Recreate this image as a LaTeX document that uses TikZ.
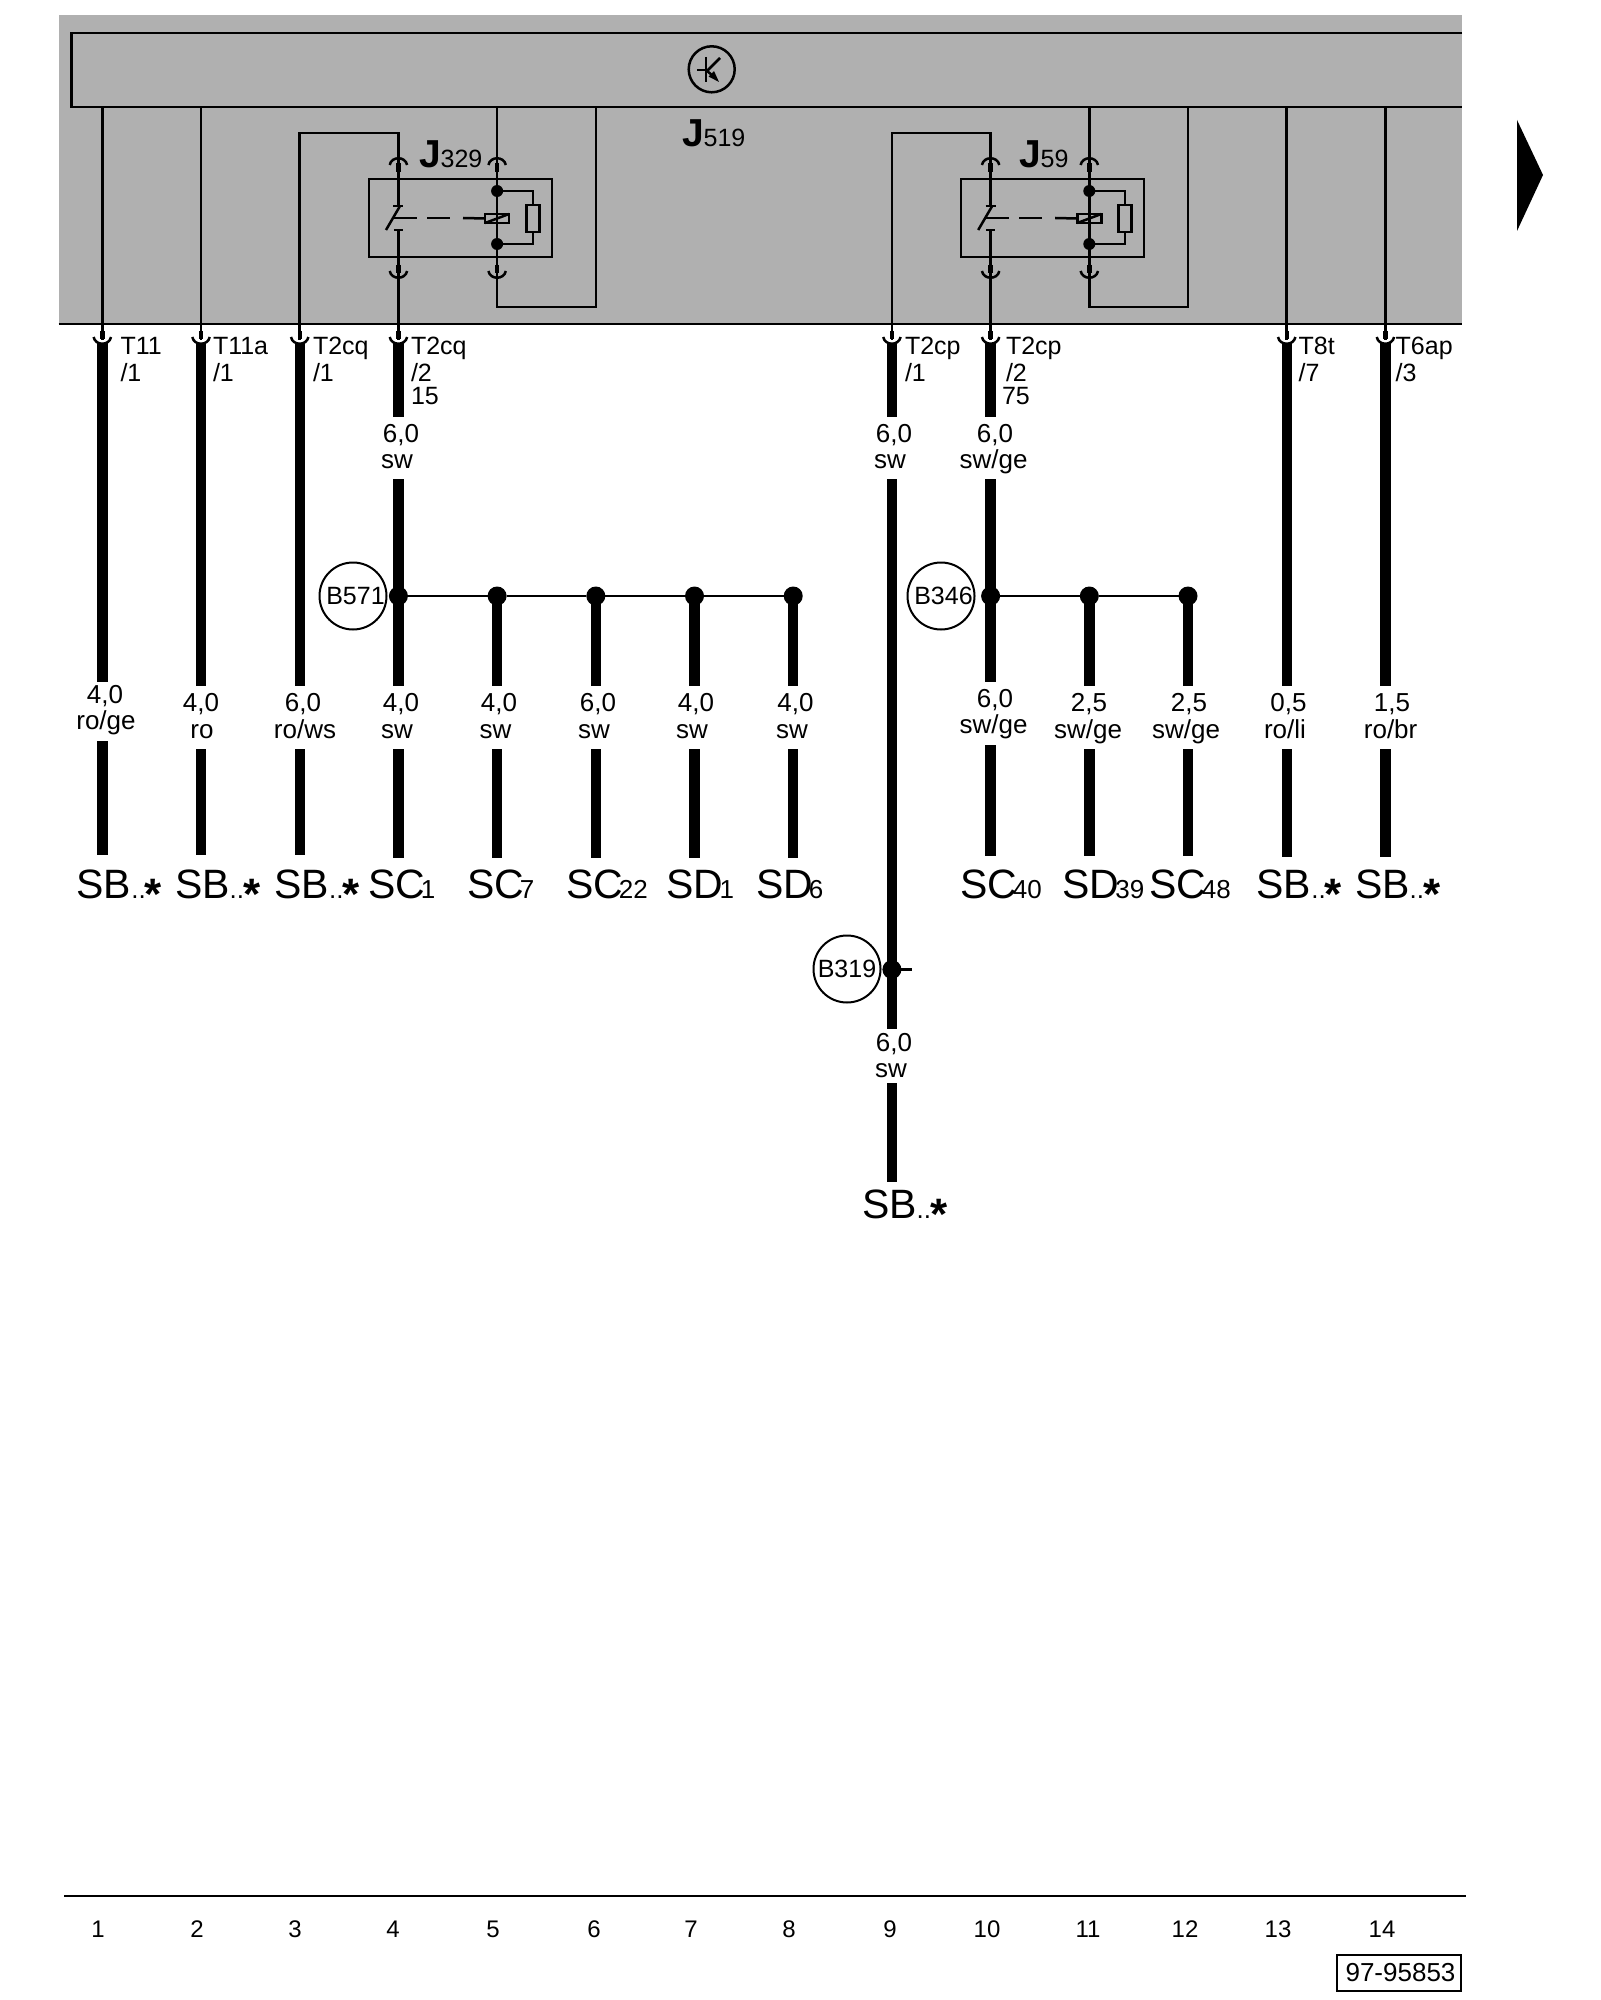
\documentclass[tikz,border=0pt]{standalone}
\usepackage{fontspec}
\setmainfont{Liberation Sans}
\usetikzlibrary{shapes}
\definecolor{modulgrey}{HTML}{B0B0B0}
\newcommand{\tiefnum}[1]{\kern-2pt{\fontsize{13}{13}\selectfont #1}}
\newcommand{\partnum}[1]{{\fontsize{12.5}{12.5}\selectfont\mdseries #1}}
\newcommand{\sbstar}{{\fontsize{13}{13}\selectfont ..}\kern-0.5pt\raisebox{-5.5pt}{\fontsize{22}{22}\selectfont\bfseries *}}

\begin{document}
\begin{tikzpicture}[x=0.5pt,y=-0.5pt]
\tikzstyle{every node}=[inner sep=0pt,outer sep=0pt]
\tikzstyle{thinw}=[line width=1.25pt]
\tikzstyle{heavyw}=[line width=5.2pt]
\tikzstyle{stub}=[line width=2.2pt]
\tikzstyle{busw}=[line width=1.3pt]
\tikzstyle{pinlabel}=[anchor=base west,font=\fontsize{12.5}{12.5}\selectfont]
\tikzstyle{wirelabel}=[anchor=base,font=\fontsize{13}{13}\selectfont]
\tikzstyle{splice}=[circle,draw,line width=1pt,minimum size=33.5pt,font=\fontsize{12.5}{12.5}\selectfont]
\tikzstyle{junction}=[circle,fill=black,minimum size=9.5pt]
\tikzstyle{target}=[anchor=base west,font=\fontsize{20.5}{20.5}\selectfont]
\tikzstyle{partname}=[anchor=base west,font=\fontsize{19.5}{19.5}\selectfont\bfseries]
\tikzstyle{column}=[anchor=base,font=\fontsize{12}{12}\selectfont]
\tikzset{
  pics/cupdown/.style={code={
    \draw[thinw] (-8.7,0) .. controls (-7,9) and (7,9) .. (8.7,0);
    \draw[stub] (0,-6) -- (0,2);}},
  pics/cupup/.style={code={
    \draw[thinw] (-8.7,8) .. controls (-7,-1) and (7,-1) .. (8.7,8);
    \draw[stub] (0,6) -- (0,15);}}
}
\useasboundingbox (0,0) rectangle (1600,2000);

\fill[modulgrey] (58.7,15) rectangle (1462,324);
\draw[thinw] (1462,33) -- (71.6,33) -- (71.6,107) -- (1462,107);
\draw[line width=1.3pt] (58.7,324) -- (1462,324);
\fill (1517,120) -- (1543,175) -- (1517,231) -- cycle;

\node[circle,draw,thinw,minimum size=23pt] (K) at (711.7,69.3) {};
\draw[thinw] (706,57) -- (706,82);
\draw[thinw] (697,70) -- (706,70);
\draw[thinw] (706,72) -- (720,58);
\draw[thinw] (706,70) -- (713,76);
\fill (719,82) -- (708.5,76.5) -- (714,71) -- cycle;
\node[partname] (J519) at (682,147) {J\partnum{519}};

\foreach \r/\a/\px in {329/398.4/419,59/990.6/1019}{
\begin{scope}[shift={(\a,0)}]
\coordinate (C\r) at (0,206);
\coordinate (O\r) at (0,230);
\coordinate (U\r) at (-98.7,133);
\coordinate (F\r) at (-98.7,340);
\coordinate (V\r) at (0,133);
\coordinate (G\r) at (0,340);
\coordinate (H\r) at (98.7,107);
\coordinate (I\r) at (98.7,307);
\coordinate (L\r) at (197.4,307);
\coordinate (M\r) at (197.4,107);
\node[draw,thinw,anchor=north west,minimum width=91.5pt,minimum height=39pt] (R\r) at (-29.4,179) {};
\node[junction,minimum size=6pt] (A\r) at (98.7,191) {};
\node[junction,minimum size=6pt] (B\r) at (98.7,244) {};
\node[draw,thinw,minimum width=6.5pt,minimum height=13.5pt] (Z\r) at (134.5,218.5) {};
\node[draw,thinw,minimum width=12pt,minimum height=4.5pt] (S\r) at (98.7,218.5) {};
\draw[thinw] (F\r) -- (U\r) -- (V\r) -- (C\r);
\draw[thinw] (O\r) -- (G\r);
\draw[thinw] (H\r) -- (I\r) -- (L\r) -- (M\r);
\draw[thinw] (A\r) -| (Z\r.north);
\draw[thinw] (B\r) -| (Z\r.south);
\draw[thinw] (S\r.south west) -- (S\r.north east);
\draw[thinw] (-5,206) -- (5,206);
\draw[thinw] (-4.5,230) -- (4.5,230);
\draw[thinw] (-12.4,230) -- (1.6,206);
\draw[thinw] (-5.4,218) -- (18.6,218);
\draw[thinw] (28.6,218) -- (51.6,218);
\draw[thinw] (64.6,218) -- (S\r.west);
\pic at (0,157) {cupup};
\pic at (98.7,157) {cupup};
\pic at (0,271) {cupdown};
\pic at (98.7,271) {cupdown};
\end{scope}
\node[partname] (J\r) at (\px,168) {J\partnum{\r}};
}

\foreach \n/\x in {1/102.3,2/201,13/1286.7,14/1385.4}{
\coordinate (Q\n) at (\x,107);
\coordinate (P\n) at (\x,340);
\draw[thinw] (Q\n) -- (P\n);
}
\foreach \x in {102.3,201,299.7,398.4,891.9,990.6,1286.7,1385.4}{
\pic at (\x,337) {cupdown};
}

\foreach \n/\x/\a/\b/\c/\d in {1/102.3/343/682/741/855,2/201/343/686/749/855,3/299.7/343/686/749/855,
4/398.4/479/686/749/858,5/497.1/596/686/749/858,6/595.8/596/686/749/858,7/694.5/596/686/749/858,8/793.2/596/686/749/858,
10/990.6/479/682/745/856,11/1089.3/596/686/749/856,12/1188/596/686/749/856,13/1286.7/343/686/749/857,14/1385.4/343/686/749/857,
9/891.9/479/1029/1083/1181.5}{
\coordinate (W\n a) at (\x,\a);
\coordinate (W\n b) at (\x,\b);
\coordinate (W\n c) at (\x,\c);
\coordinate (W\n d) at (\x,\d);
\draw[heavyw] (W\n a) -- (W\n b);
\draw[heavyw] (W\n c) -- (W\n d);
}
\foreach \n/\x in {4/398.4,9/891.9,10/990.6}{
\coordinate (T\n a) at (\x,343);
\coordinate (T\n b) at (\x,417);
\draw[heavyw] (T\n a) -- (T\n b);
}

\node[junction] (D4) at (398.4,596) {};
\node[junction] (D5) at (497.1,596) {};
\node[junction] (D6) at (595.8,596) {};
\node[junction] (D7) at (694.5,596) {};
\node[junction] (D8) at (793.2,596) {};
\node[junction] (D10) at (990.6,596) {};
\node[junction] (D11) at (1089.3,596) {};
\node[junction] (D12) at (1188,596) {};
\node[junction] (D9) at (891.9,969.5) {};
\coordinate (E9) at (912,969.5);
\draw[busw] (D4) -- (D5) -- (D6) -- (D7) -- (D8);
\draw[busw] (D10) -- (D11) -- (D12);
\draw[thinw] (D9) -- (E9);

\node[splice] (B571) at (353,596) {\kern2.5pt B571};
\node[splice] (B346) at (941,596) {\kern2.5pt B346};
\node[splice] (B319) at (847,969) {B319};

\node[pinlabel] (T11) at (120.5,355) {T11};
\node[pinlabel] (T11p) at (120.5,382) {/1};
\node[pinlabel] (T11a) at (213,355) {T11a};
\node[pinlabel] (T11ap) at (213,382) {/1};
\node[pinlabel] (T2cqa) at (313,355) {T2cq};
\node[pinlabel] (T2cqap) at (313,382) {/1};
\node[pinlabel] (T2cqb) at (411,355) {T2cq};
\node[pinlabel] (T2cqbp) at (411,382) {/2};
\node[pinlabel] (T2cqbt) at (411,405) {15};
\node[pinlabel] (T2cpa) at (905,355) {T2cp};
\node[pinlabel] (T2cpap) at (905,382) {/1};
\node[pinlabel] (T2cpb) at (1006,355) {T2cp};
\node[pinlabel] (T2cpbp) at (1006,382) {/2};
\node[pinlabel] (T2cpbt) at (1002,405) {75};
\node[pinlabel] (T8t) at (1298.7,355) {T8t};
\node[pinlabel] (T8tp) at (1298.7,382) {/7};
\node[pinlabel] (T6ap) at (1395.7,355) {T6ap};
\node[pinlabel] (T6app) at (1395.7,382) {/3};

\foreach \n/\xa/\ya/\sa/\xb/\yb/\sb in {a/401/443/{6,0}/397/468/{sw},b/894/443/{6,0}/890/468/{sw},c/995/443/{6,0}/993.5/468/{sw/ge},
d/105/703/{4,0}/106/729/{ro/ge},e/201/711/{4,0}/202/738/{ro},f/303/711/{6,0}/305/738/{ro/ws},g/401/711/{4,0}/397/738/{sw},
h/499/711/{4,0}/495.5/738/{sw},i/598/711/{6,0}/594/738/{sw},j/696/711/{4,0}/692/738/{sw},k/795.5/711/{4,0}/792/738/{sw},
l/995/707/{6,0}/993.5/733/{sw/ge},m/1089/711/{2,5}/1088/738/{sw/ge},n/1189/711/{2,5}/1186/738/{sw/ge},
o/1288.5/711/{0,5}/1285/738/{ro/li},p/1392/711/{1,5}/1390.6/738/{ro/br},q/894/1051/{6,0}/891/1077/{sw}}{
\node[wirelabel] (G\n) at (\xa,\ya) {\sa};
\node[wirelabel] (C\n) at (\xb,\yb) {\sb};
}

\node[target] (SB1) at (76.6,898) {SB\sbstar};
\node[target] (SB2) at (175,898) {SB\sbstar};
\node[target] (SB3) at (274.5,898) {SB\sbstar};
\node[target] (SC1) at (368,898) {SC\tiefnum{1}};
\node[target] (SC7) at (467,898) {SC\tiefnum{7}};
\node[target] (SC22) at (566,898) {SC\tiefnum{22}};
\node[target] (SD1) at (666.6,898) {SD\tiefnum{1}};
\node[target] (SD6) at (756,898) {SD\tiefnum{6}};
\node[target] (SC40) at (960,898) {SC\tiefnum{40}};
\node[target] (SD39) at (1062.5,898) {SD\tiefnum{39}};
\node[target] (SC48) at (1149,898) {SC\tiefnum{48}};
\node[target] (SB13) at (1256.6,898) {SB\sbstar};
\node[target] (SB14) at (1355,898) {SB\sbstar};
\node[target] (SB9) at (862,1218.5) {SB\sbstar};

\coordinate (Fa) at (64,1896);
\coordinate (Fb) at (1466,1896);
\draw[line width=1.3pt] (Fa) -- (Fb);
\foreach \n/\x in {1/98,2/197,3/295,4/393,5/493,6/594,7/691,8/789,9/890,10/987,11/1088,12/1185,13/1278,14/1382}{
\node[column] (N\n) at (\x,1937) {\n};
}
\node[draw,line width=1.2pt,anchor=north west,minimum width=62pt,minimum height=18pt,font=\fontsize{13}{13}\selectfont] (Nr) at (1337,1955) {\kern1.5pt 97-95853};
\end{tikzpicture}
\end{document}
